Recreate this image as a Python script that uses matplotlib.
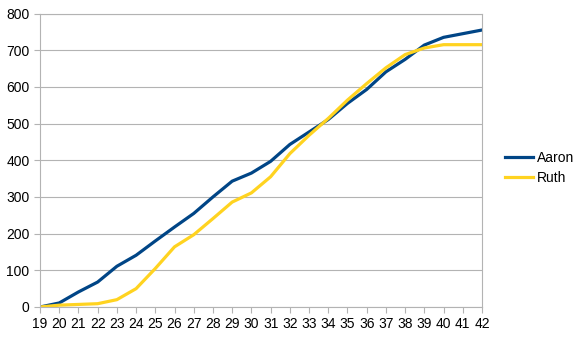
import matplotlib.pyplot as plt

plt.rcParams['font.family'] = ['Liberation Sans', 'DejaVu Sans']

# Data
days = list(range(19, 43))
aaron = [0, 11, 41, 68, 111, 141, 180, 218, 255, 300, 343, 365, 397, 443,
         477, 511, 555, 593, 641, 675, 714, 735, 745, 755]
ruth = [0, 5, 7, 9, 20, 50, 105, 164, 197, 241, 286, 311, 355, 418,
        468, 514, 564, 609, 652, 688, 706, 715, 715, 715]

fig = plt.figure(figsize=(5.8, 3.37), dpi=100)
ax = fig.add_axes([40 / 580, 30 / 337, 442 / 580, 293.5 / 337])

ax.plot(days, aaron, color='#004586', linewidth=2.3, label='Aaron')
ax.plot(days, ruth, color='#ffd320', linewidth=2.3, label='Ruth')

ax.set_xlim(19, 42)
ax.set_ylim(0, 800)
ax.set_xticks(days)
ax.set_yticks(range(0, 801, 100))
ax.tick_params(colors='#b3b3b3', labelcolor='black', labelsize=10, length=4)
ax.grid(True, axis='y', color='#b3b3b3', linewidth=0.8)
ax.set_axisbelow(True)
for s in ax.spines.values():
    s.set_color('#b3b3b3')

# legend sits to the right of the plot area
fig.legend(loc='center left', bbox_to_anchor=(505 / 580, 169 / 337),
           frameon=False, fontsize=10, handlelength=2.0, handletextpad=0.3,
           borderpad=0, borderaxespad=0, labelspacing=0.45)

plt.savefig('out.png', dpi=100)
